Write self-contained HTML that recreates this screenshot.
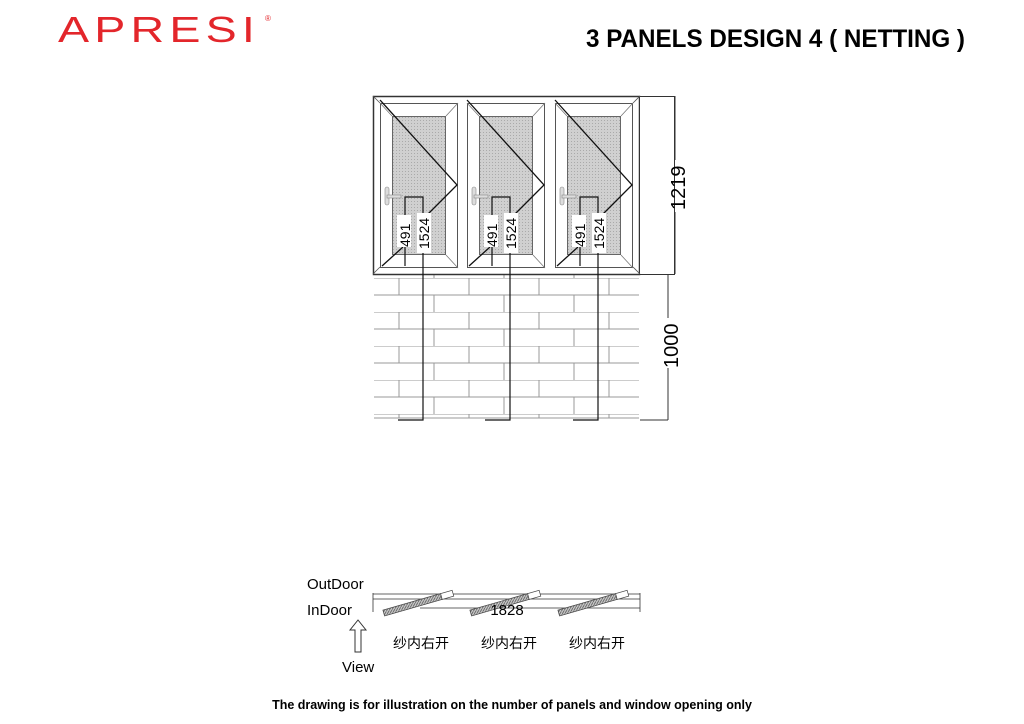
<!DOCTYPE html>
<html><head><meta charset="utf-8"><style>
body{margin:0;background:#fff}
svg{display:block}
text{font-family:"Liberation Sans","Noto Sans CJK SC",sans-serif}
</style></head><body>
<svg width="1024" height="724" viewBox="0 0 1024 724" xmlns="http://www.w3.org/2000/svg">
<defs>
<pattern id="net" width="3" height="3" patternUnits="userSpaceOnUse"><rect width="3" height="3" fill="#d0d0d0"/><rect width="1" height="1" fill="#aaa"/></pattern>
<pattern id="brick" x="374" y="278" width="140" height="34" patternUnits="userSpaceOnUse">
<path d="M0 0H140M0 17H140M25 0V17M95 0V17M60 17V34M130 17V34" stroke="#999" stroke-width="1" fill="none"/>
</pattern>
<pattern id="hatch" width="3" height="3" patternUnits="userSpaceOnUse"><rect width="3" height="3" fill="#ccc"/><path d="M0 3L3 0" stroke="#555" stroke-width="0.8"/></pattern>
</defs>
<text x="58" y="42" font-size="36" fill="#e3262b" textLength="202" lengthAdjust="spacingAndGlyphs" letter-spacing="4">APRESI</text>
<text x="265" y="21" font-size="8" fill="#e3262b">®</text>
<text x="586" y="47" font-size="25" font-weight="bold" textLength="379" lengthAdjust="spacingAndGlyphs">3 PANELS DESIGN 4 ( NETTING )</text>

<rect x="374" y="274" width="265" height="144" fill="url(#brick)"/>
<line x1="374" y1="418" x2="639" y2="418" stroke="#999"/>
<rect x="373.5" y="96.5" width="266" height="178" fill="#fff" stroke="#333" stroke-width="1.5"/>
<rect x="639.5" y="96.5" width="35" height="178" fill="#fff" stroke="#333"/>
<g stroke="#555" stroke-width="0.8">
<line x1="373" y1="96" x2="380" y2="103"/><line x1="640" y1="96" x2="633" y2="103"/>
<line x1="373" y1="274" x2="380" y2="267"/><line x1="640" y1="274" x2="633" y2="267"/>
</g>
<g id="p">
<rect x="380.5" y="103.5" width="77" height="164" fill="#fff" stroke="#555"/>
<rect x="392.5" y="116.5" width="53" height="138" fill="url(#net)" stroke="#666"/>
<g stroke="#777" stroke-width="0.8"><line x1="380" y1="103" x2="392" y2="116"/><line x1="458" y1="103" x2="446" y2="116"/><line x1="458" y1="268" x2="446" y2="255"/></g>
<path d="M380 100L457 185L427 215M382 266L403 247" fill="none" stroke="#111" stroke-width="1.3"/>
<rect x="385" y="187" width="4" height="18" rx="2" fill="#ddd" stroke="#888" stroke-width="0.6"/>
<rect x="387" y="195" width="14" height="3" fill="#ddd" stroke="#888" stroke-width="0.6"/>
<path d="M405 266V197H423V420H398" fill="none" stroke="#111" stroke-width="1.2"/>
<rect x="397" y="215" width="14" height="32" fill="#fff"/>
<rect x="417" y="213" width="14" height="40" fill="#fff"/>
<text transform="translate(410 247) rotate(-90)" font-size="14">491</text>
<text transform="translate(429 249) rotate(-90)" font-size="14">1524</text>
</g>
<use href="#p" x="87"/>
<use href="#p" x="175"/>
<line x1="675" y1="96" x2="675" y2="160" stroke="#333"/>
<line x1="675" y1="212" x2="675" y2="274" stroke="#333"/>
<text transform="translate(685 210) rotate(-90)" font-size="20">1219</text>
<line x1="668" y1="274" x2="668" y2="318" stroke="#333"/>
<line x1="668" y1="368" x2="668" y2="420" stroke="#333"/>
<line x1="640" y1="420" x2="668" y2="420" stroke="#333"/>
<text transform="translate(678 368) rotate(-90)" font-size="20">1000</text>

<text x="307" y="589" font-size="15">OutDoor</text>
<text x="307" y="615" font-size="15">InDoor</text>
<g stroke="#333" stroke-width="0.8" fill="none">
<line x1="373" y1="594" x2="640" y2="594"/><line x1="373" y1="599" x2="640" y2="599"/>
<line x1="420" y1="608" x2="640" y2="608"/>
<line x1="373" y1="593" x2="373" y2="612"/><line x1="640" y1="593" x2="640" y2="612"/>
</g>
<g id="s" transform="rotate(-16 384 614)">
<rect x="384" y="610" width="60" height="6" fill="url(#hatch)" stroke="#444" stroke-width="0.7"/>
<rect x="444" y="610" width="12" height="6" fill="#fff" stroke="#444" stroke-width="0.7"/>
</g>
<use href="#s" x="87"/>
<use href="#s" x="175"/>
<text x="507" y="615" font-size="15" text-anchor="middle">1828</text>
<text x="393" y="648" font-size="14">纱内右开</text>
<text x="481" y="648" font-size="14">纱内右开</text>
<text x="569" y="648" font-size="14">纱内右开</text>
<path d="M358 620L350 630H355V652H361V630H366Z" fill="#fff" stroke="#333"/>
<text x="342" y="672" font-size="15">View</text>
<text x="512" y="709" font-size="12.5" font-weight="bold" text-anchor="middle">The drawing is for illustration on the number of panels and window opening only</text>
</svg>
</body></html>
